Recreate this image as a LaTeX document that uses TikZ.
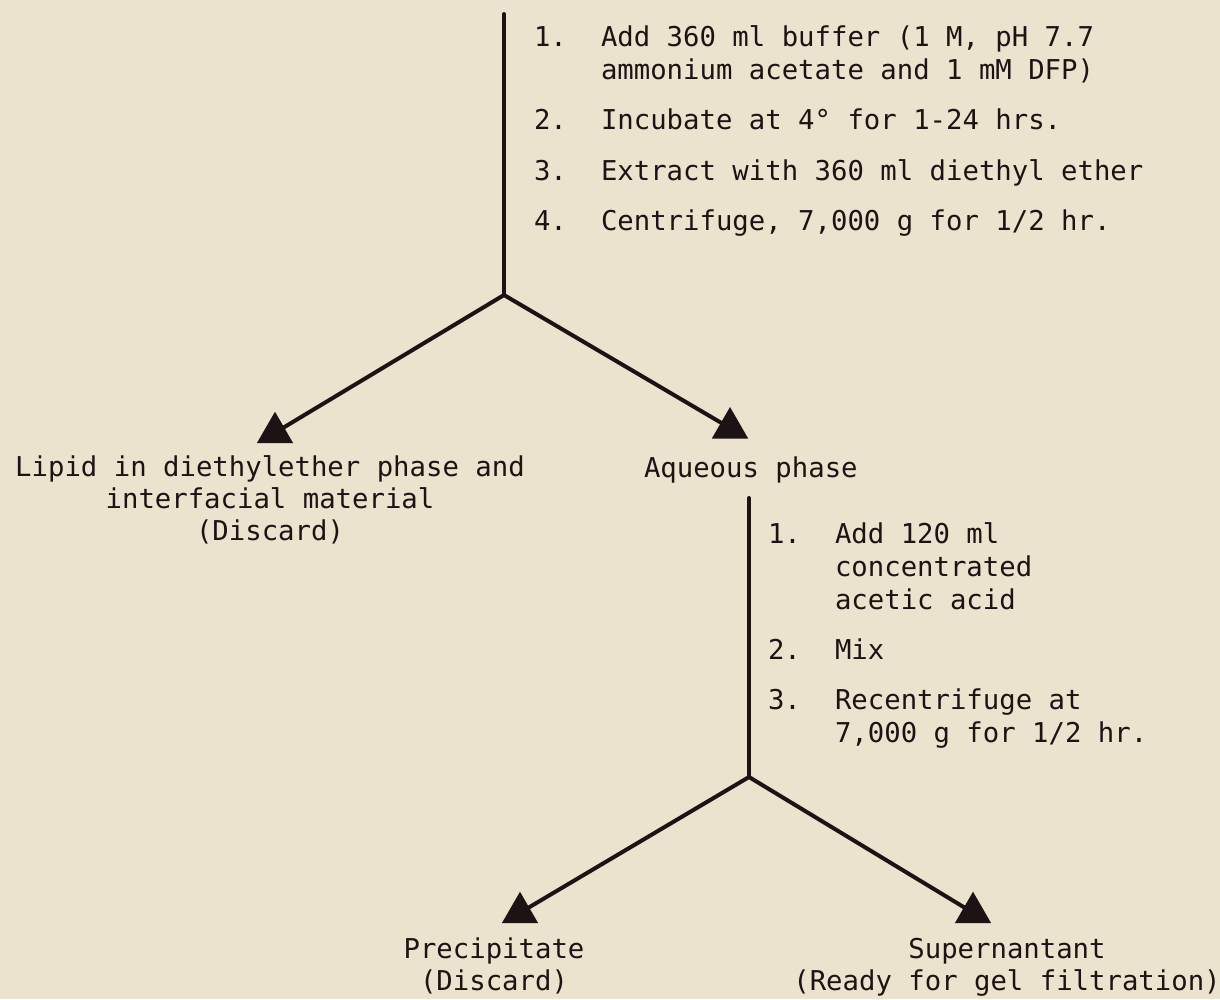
\documentclass[tikz,border=0pt]{standalone}
\usepackage{fontspec}
\newfontfamily\tw{DejaVu Sans Mono}
\usetikzlibrary{shapes.geometric}
\definecolor{paper}{RGB}{236,227,206}
\definecolor{ink}{RGB}{28,20,20}
\begin{document}
\begin{tikzpicture}[x=1pt,y=-1pt,
  txt/.style={font=\tw\fontsize{27.3}{33}\selectfont, text=ink, inner sep=0pt, outer sep=0pt},
  lt/.style={txt, anchor=base west},
  ct/.style={txt, anchor=base},
  tri/.style={regular polygon, regular polygon sides=3, minimum size=42pt, inner sep=0pt, outer sep=0pt, fill=ink, draw=none},
  wire/.style={draw=ink, line width=4pt, line cap=round}]
\fill[paper] (0,0) rectangle (1220,999);
\useasboundingbox (0,0) rectangle (1220,999);

% first stage
\coordinate (top1) at (504,14);
\coordinate (b1) at (504,295);
\node[tri] (t1) at (275,432.7) {};
\node[tri] (t2) at (730,428) {};
\draw[wire] (top1) -- (b1);
\draw[wire] (b1) -- (t1.center);
\draw[wire] (b1) -- (t2.center);

\node[lt] (n11) at (534,46) {1.};
\node[lt] (s11a) at (601,46) {Add 360 ml buffer (1 M, pH 7.7};
\node[lt] (s11b) at (601,79) {ammonium acetate and 1 mM DFP)};
\node[lt] (n12) at (534,129) {2.};
\node[lt] (s12) at (601,129) {Incubate at 4° for 1-24 hrs.};
\node[lt] (n13) at (534,180) {3.};
\node[lt] (s13) at (601,180) {Extract with 360 ml diethyl ether};
\node[lt] (n14) at (534,230) {4.};
\node[lt] (s14) at (601,230) {Centrifuge, 7,000 g for 1/2 hr.};

\node[ct] (lipa) at (270,476) {Lipid in diethylether phase and};
\node[ct] (lipb) at (270,508) {interfacial material};
\node[ct] (lipc) at (270,540) {(Discard)};
\node[lt] (aq) at (644,477) {Aqueous phase};

% second stage
\coordinate (top2) at (749,498);
\coordinate (b2) at (749,777);
\node[tri] (t3) at (520,912.7) {};
\node[tri] (t4) at (973,912.7) {};
\draw[wire] (top2) -- (b2);
\draw[wire] (b2) -- (t3.center);
\draw[wire] (b2) -- (t4.center);

\node[lt] (n21) at (768,543) {1.};
\node[lt] (s21a) at (835,543) {Add 120 ml};
\node[lt] (s21b) at (835,576) {concentrated};
\node[lt] (s21c) at (835,609) {acetic acid};
\node[lt] (n22) at (768,659) {2.};
\node[lt] (s22) at (835,659) {Mix};
\node[lt] (n23) at (768,709) {3.};
\node[lt] (s23a) at (835,709) {Recentrifuge at};
\node[lt] (s23b) at (835,742) {7,000 g for 1/2 hr.};

\node[ct] (prea) at (494,958) {Precipitate};
\node[ct] (preb) at (494,990) {(Discard)};
\node[ct] (supa) at (1007,958) {Supernantant};
\node[ct] (supb) at (1007,990) {(Ready for gel filtration)};
\end{tikzpicture}
\end{document}
